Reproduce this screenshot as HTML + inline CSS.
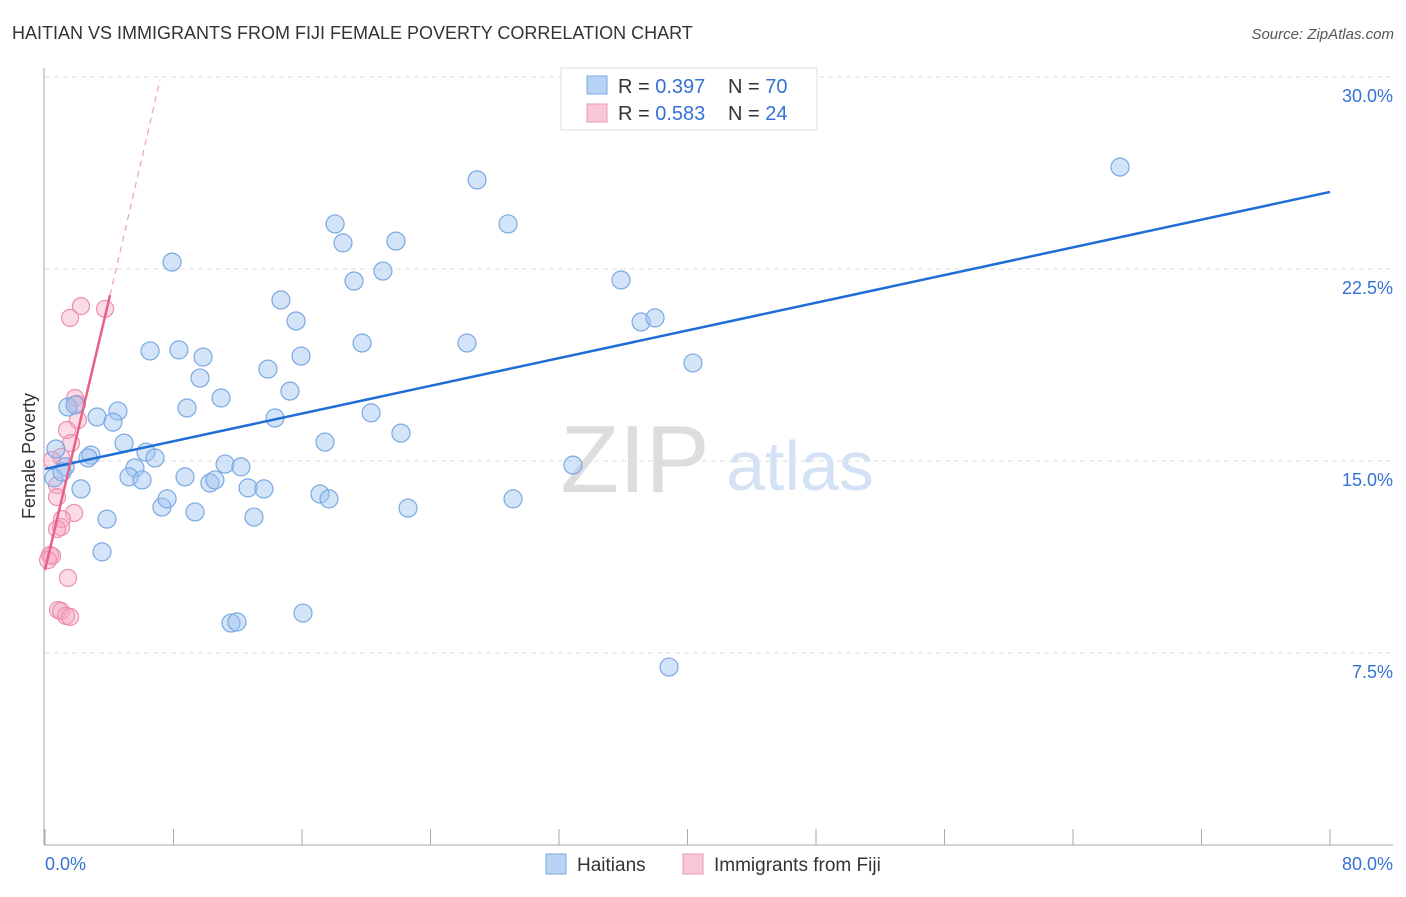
<!DOCTYPE html>
<html><head><meta charset="utf-8"><style>
body{margin:0;background:#fff;font-family:"Liberation Sans",sans-serif;}
svg text{font-family:"Liberation Sans",sans-serif;}
</style></head><body>
<svg id="chart" width="1406" height="892">
<text x="12" y="39" font-size="18" fill="#333">HAITIAN VS IMMIGRANTS FROM FIJI FEMALE POVERTY CORRELATION CHART</text>
<text x="1394" y="39" font-size="15" fill="#555" font-style="italic" text-anchor="end">Source: ZipAtlas.com</text>
<text x="35" y="456" font-size="18" fill="#333" text-anchor="middle" transform="rotate(-90 35 456)">Female Poverty</text>
<g id="grid"></g>
<text x="635" y="492" font-size="96" fill="#ddd" font-family="Liberation Serif" text-anchor="middle">ZIP</text>
<text x="800" y="490" font-size="70" fill="#d4e2f5" text-anchor="middle">atlas</text>
<g id="marks"></g>
<g>
<rect x="561" y="68" width="256" height="62" fill="#fff" stroke="#ddd"/>
<rect x="587" y="76" width="20" height="18" fill="#b9d3f5" stroke="#7aa8e3"/>
<rect x="587" y="104" width="20" height="18" fill="#f9c8d6" stroke="#ee9ab5"/>
<text x="618" y="93" font-size="20" fill="#333">R = <tspan fill="#3572d4">0.397</tspan></text>
<text x="728" y="93" font-size="20" fill="#333">N = <tspan fill="#3572d4">70</tspan></text>
<text x="618" y="120" font-size="20" fill="#333">R = <tspan fill="#3572d4">0.583</tspan></text>
<text x="728" y="120" font-size="20" fill="#333">N = <tspan fill="#3572d4">24</tspan></text>
</g>
<g>
<rect x="546" y="854" width="20" height="20" fill="#b9d3f5" stroke="#7aa8e3"/>
<text x="577" y="871" font-size="19" fill="#333">Haitians</text>
<rect x="683" y="854" width="20" height="20" fill="#f9c8d6" stroke="#ee9ab5"/>
<text x="714" y="871" font-size="19" fill="#333">Immigrants from Fiji</text>
</g>
</svg>
<script>
const yTicks=[7.5,15,22.5,30];
const yTickLabels=["7.5%","15.0%","22.5%","30.0%"];
const xEndLabels=["0.0%","80.0%"];
const blueX=[7.91,6.54,8.34,9.84,9.65,8.84,10.96,4.54,3.24,4.23,1.43,1.87,4.92,6.29,6.85,5.60,5.23,6.04,8.72,2.86,2.68,1.25,0.68,0.56,2.24,3.86,3.55,7.28,7.60,9.34,10.27,10.58,11.21,12.20,12.64,13.63,13.01,11.58,11.95,16.06,13.88,14.69,15.63,15.94,15.25,14.32,18.06,18.55,19.24,21.04,21.85,19.74,20.30,22.16,17.43,17.12,17.68,22.60,26.90,28.83,26.27,29.14,32.87,35.86,37.11,37.98,40.34,38.85,66.93,1.06];
const blueY=[22.77,19.30,19.34,19.06,18.24,17.07,17.46,16.95,16.72,16.52,17.11,17.19,15.70,15.35,15.12,14.73,14.38,14.26,14.38,15.23,15.12,14.77,15.47,14.34,13.91,12.73,11.45,13.20,13.52,13.01,14.14,14.26,14.88,14.77,13.95,13.91,12.81,8.67,8.71,9.06,18.59,21.29,20.47,19.10,17.73,16.68,24.26,23.52,22.03,22.42,23.59,19.61,16.88,16.09,15.74,13.71,13.52,13.16,25.98,24.26,19.61,13.52,14.84,22.07,20.43,20.59,18.83,6.95,26.48,14.57];
const pinkX=[2.24,3.74,1.56,1.87,1.99,2.05,1.37,1.62,1.00,0.75,0.75,1.81,1.06,1.00,0.75,0.31,0.44,0.19,1.43,0.81,1.00,1.31,1.56,0.44];
const pinkY=[21.05,20.94,20.59,17.46,17.23,16.60,16.21,15.70,15.16,14.06,13.59,12.97,12.73,12.42,12.34,11.33,11.29,11.13,10.43,9.18,9.14,8.95,8.91,15.04];
const blueLine=[[0,14.69],[80,25.51]];
const pinkLine=[[0,10.74],[4.05,21.48]];
const pinkDash=[[4.05,21.48],[7.16,29.88]];

const X0=45,X1=1330,Y0=845,Y30=77;
const sx=v=>X0+(v/80)*(X1-X0);
const sy=v=>Y0-(v/30)*(Y0-Y30);
const NS="http://www.w3.org/2000/svg";
function mk(tag,attrs,parent){const e=document.createElementNS(NS,tag);for(const k in attrs)e.setAttribute(k,attrs[k]);parent.appendChild(e);return e;}
const grid=document.getElementById('grid'),marks=document.getElementById('marks');
yTicks.forEach((t,i)=>{
 const l=mk('line',{x1:45,x2:1393,y1:sy(t),y2:sy(t),stroke:'#ddd','stroke-dasharray':'5,4'},grid);
 
 
 const tx=mk('text',{x:1393,y:sy(t)+25,'font-size':18,fill:'#3572d4','text-anchor':'end'},grid);
 tx.textContent=yTickLabels[i];
 
 
});
let ax=mk('line',{x1:44,x2:44,y1:68,y2:845,stroke:'#aaa'},grid);


ax=mk('line',{x1:44,x2:1393,y1:845,y2:845,stroke:'#aaa'},grid);


for(let i=0;i<=10;i++){
 const t=mk('line',{x1:sx(i*8),x2:sx(i*8),y1:829,y2:845,stroke:'#aaa'},grid);
 
 
}
[[0,'start',45],[80,'end',1393]].forEach((d,i)=>{
 const t=mk('text',{x:d[2],y:870,'font-size':18,fill:'#3572d4','text-anchor':d[1]},grid);
 t.textContent=xEndLabels[i];
 
 
});
pinkX.forEach((x,i)=>{
 const c=mk('circle',{cx:sx(x),cy:sy(pinkY[i]),r:8.5,fill:'rgba(245,165,190,0.4)',stroke:'#eb90ad','stroke-width':1.2},marks);
 
 
});
blueX.forEach((x,i)=>{
 const c=mk('circle',{cx:sx(x),cy:sy(blueY[i]),r:9,fill:'rgba(160,196,240,0.45)',stroke:'#7aa8e3','stroke-width':1.2},marks);
 
 
});
let ln=mk('line',{x1:sx(blueLine[0][0]),y1:sy(blueLine[0][1]),x2:sx(blueLine[1][0]),y2:sy(blueLine[1][1]),stroke:'#1f6dd6','stroke-width':2.5},marks);


ln=mk('line',{x1:sx(pinkLine[0][0]),y1:sy(pinkLine[0][1]),x2:sx(pinkLine[1][0]),y2:sy(pinkLine[1][1]),stroke:'#e8608a','stroke-width':2.5},marks);


ln=mk('line',{x1:sx(pinkDash[0][0]),y1:sy(pinkDash[0][1]),x2:sx(pinkDash[1][0]),y2:sy(pinkDash[1][1]),stroke:'#eea0b8','stroke-width':1.2,'stroke-dasharray':'6,5'},marks);


</script>
</body></html>
